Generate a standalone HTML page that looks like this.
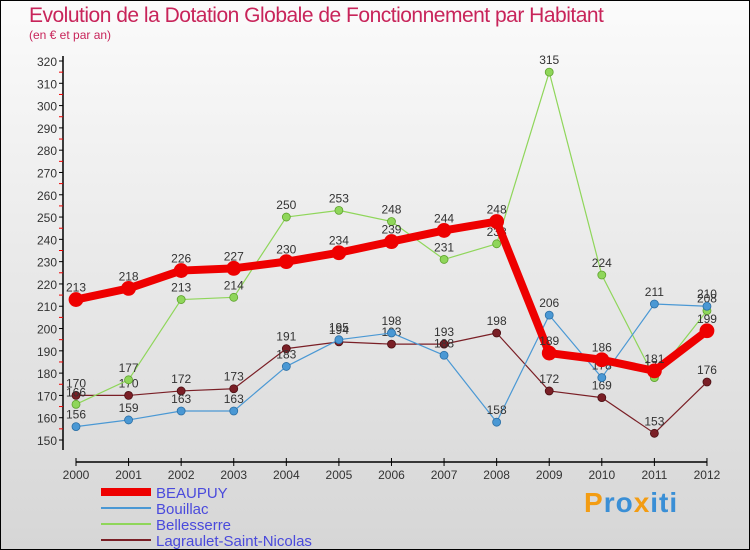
<!DOCTYPE html>
<html><head><meta charset="utf-8"><style>
body{margin:0;}
#c{width:750px;height:550px;position:relative;background:linear-gradient(#fbfbfb,#d6d6d6);font-family:"Liberation Sans",sans-serif;border:1px solid #000;box-sizing:border-box;overflow:hidden}
.t{position:absolute;left:28px;top:3px;color:#c8245a;font-size:21px;letter-spacing:-0.5px}
.s{position:absolute;left:28px;top:27px;color:#c8245a;font-size:12px}
</style></head><body>
<div id="c">
<div class="t">Evolution de la Dotation Globale de Fonctionnement par Habitant</div>
<div class="s">(en € et par an)</div>
<svg id="g" width="750" height="550" style="position:absolute;left:0;top:0"></svg>
<div style="position:absolute;left:583px;top:486px;font-size:28px;font-weight:bold;letter-spacing:1px"><span style="color:#f39c12">P</span><span style="color:#3a8fd6">ro</span><span style="color:#f39c12">x</span><span style="color:#3a8fd6">iti</span></div>
</div>
<script>
const years=[2000,2001,2002,2003,2004,2005,2006,2007,2008,2009,2010,2011,2012];
const beaupuy=[213,218,226,227,230,234,239,244,248,189,186,181,199];
const bouillac=[156,159,163,163,183,195,198,188,158,206,178,211,210];
const bellesserre=[166,177,213,214,250,253,248,231,238,315,224,178,208];
const lagraulet=[170,170,172,173,191,194,193,193,198,172,169,153,176];
const yTicks=[150,160,170,180,190,200,210,220,230,240,250,260,270,280,290,300,310,320];
const seriesNames=["BEAUPUY","Bouillac","Bellesserre","Lagraulet-Saint-Nicolas"];
const NS="http://www.w3.org/2000/svg",g=document.getElementById('g');
const x=i=>75+i*52.58, y=v=>439-(v-150)*(379/170);
function el(t,a,p){const e=document.createElementNS(NS,t);for(const k in a)e.setAttribute(k,a[k]);(p||g).appendChild(e);return e;}
let e=el('line',{x1:62,y1:55,x2:62,y2:449,stroke:'#000','stroke-width':1.5});

e=el('line',{x1:75,y1:437,x2:706,y2:437,stroke:'#000','stroke-width':0});
e=el('line',{x1:75,y1:461,x2:706,y2:461,stroke:'#000','stroke-width':1.5});

yTicks.forEach((v,i)=>{
  let t=el('line',{x1:58,y1:y(v),x2:62,y2:y(v),stroke:'#000'});
  
  if(i<yTicks.length-1){let m=el('line',{x1:58,y1:y(v+5),x2:62,y2:y(v+5),stroke:'#e00'});}
  let l=el('text',{x:56,y:y(v)+5,'text-anchor':'end','font-size':12,fill:'#333'});l.textContent=v;
  
});
years.forEach((yr,i)=>{
  let t=el('line',{x1:x(i),y1:457,x2:x(i),y2:465,stroke:'#000'});
  
  let l=el('text',{x:x(i),y:478,'text-anchor':'middle','font-size':12,fill:'#333'});l.textContent=yr;
  
});
function series(d,col,w,r,name,dark){
  const gr=el('g',{});
  el('polyline',{points:d.map((v,i)=>x(i)+','+y(v)).join(' '),fill:'none',stroke:col,'stroke-width':w,'stroke-linejoin':'round'},gr);
  d.forEach((v,i)=>{
    let c=el('circle',{cx:x(i),cy:y(v),r:r,fill:col,stroke:dark,'stroke-width':0.8},gr);
    
    let l=el('text',{x:x(i),y:y(v)-8,'text-anchor':'middle','font-size':12,fill:'#333'},gr);l.textContent=v;
    
  });
}
series(lagraulet,'#7a1f26',1.2,4,'lagraulet-series','#4a0f12');
series(bellesserre,'#8fd65a',1.2,4,'bellesserre-series','#5ea22d');
series(bouillac,'#4a98d4',1.2,4,'bouillac-series','#2a6ea4');
series(beaupuy,'#ee0000',8,7,'beaupuy-series','#ee0000');
const cols=['#ee0000','#4a98d4','#8fd65a','#7a1f26'],ws=[8,2,2,2];
seriesNames.forEach((n,i)=>{
  const yy=491+i*16;
  let ln=el('line',{x1:100,y1:yy,x2:150,y2:yy,stroke:cols[i],'stroke-width':ws[i]});
  
  let t=el('text',{x:155,y:yy+6,'font-size':15,fill:'#4a4adc'});t.textContent=n;
  
});
</script>
</body></html>
